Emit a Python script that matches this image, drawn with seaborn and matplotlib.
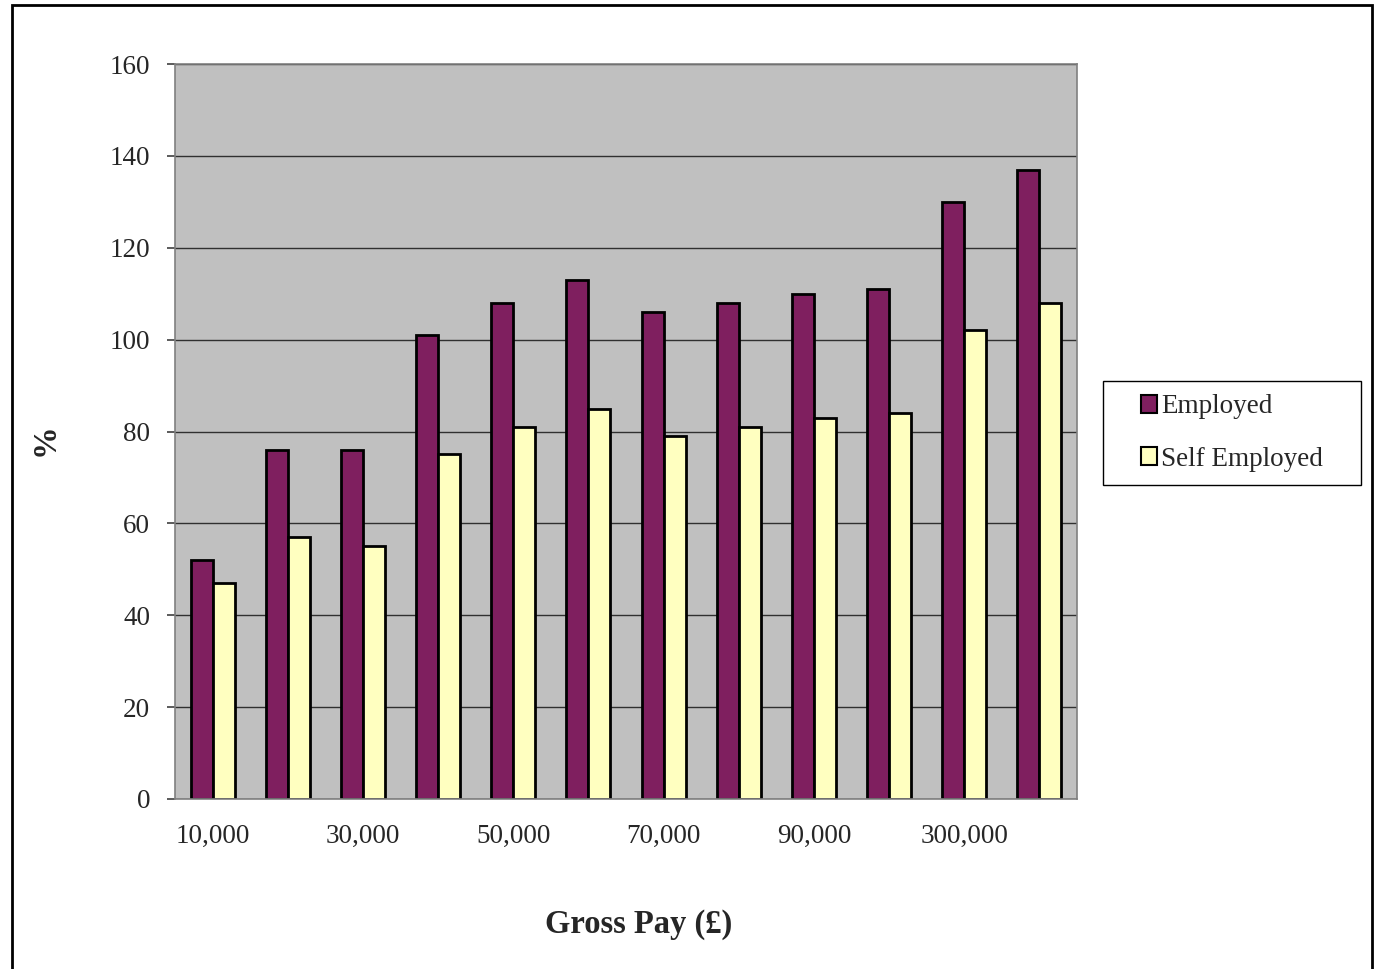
import numpy as np
import pandas as pd
import seaborn as sns
import matplotlib.pyplot as plt
from matplotlib.patches import Rectangle, Patch

# gross pay bands (only every other label is printed on the axis)
pay_bands = ["10,000", "20,000", "30,000", "40,000", "50,000", "60,000",
             "70,000", "80,000", "90,000", "100,000", "300,000", "500,000"]
employed = [52, 76, 76, 101, 108, 113, 106, 108, 110, 111, 130, 137]
self_employed = [47, 57, 55, 75, 81, 85, 79, 81, 83, 84, 102, 108]
series_names = ["Employed", "Self Employed"]
series_colors = ["#7F1F5F", "#FFFFC0"]

# long format for seaborn
df = pd.DataFrame({
    "Gross Pay": pay_bands * 2,
    "Value": employed + self_employed,
    "Group": [series_names[0]] * len(pay_bands) + [series_names[1]] * len(pay_bands),
})

sns.set_style("white")
plt.rcParams["font.family"] = ["Liberation Serif", "DejaVu Serif"]
plt.rcParams["font.size"] = 19.5

fig = plt.figure(figsize=(13.76, 9.69), dpi=100)
ax = fig.add_axes([175 / 1376, 1 - 799 / 969, 902 / 1376, 735 / 969])

sns.barplot(data=df, x="Gross Pay", y="Value", hue="Group", order=pay_bands,
            hue_order=series_names, palette=series_colors, width=0.585,
            edgecolor="black", linewidth=2, saturation=1, ax=ax, legend=False)

ax.set_facecolor("#C0C0C0")
ax.set_xlim(-0.5, len(pay_bands) - 0.5)
ax.set_ylim(0, 160)
ax.set_yticks(np.arange(0, 161, 20))
ax.yaxis.grid(True, color="#303030", linewidth=1)
ax.set_axisbelow(True)
for side in ["left", "right", "top", "bottom"]:
    ax.spines[side].set_visible(True)
    ax.spines[side].set_color("#808080")
    ax.spines[side].set_linewidth(1.2)

# labels on every other category, tick marks on the category borders
ax.set_xticks(range(len(pay_bands)))
ax.set_xticklabels([b if i % 2 == 0 else "" for i, b in enumerate(pay_bands)])
ax.set_xticks(np.arange(-0.5, len(pay_bands)), minor=True)
ax.tick_params(axis="x", which="major", length=0, pad=18)
ax.tick_params(axis="x", which="minor", length=6, width=1.2, color="#404040", direction="out")
ax.tick_params(axis="y", length=6, width=1.2, color="#404040", direction="out", pad=12, left=True)

ax.set_xlabel("Gross Pay (£)", fontsize=23.5, fontweight="bold")
ax.set_ylabel("%", fontsize=23.5, fontweight="bold")
ax.xaxis.set_label_coords((639 - 175) / 902, (799 - 925) / 735)
ax.yaxis.set_label_coords((45 - 175) / 902, (799 - 440) / 735)
ax.xaxis.label.set_va("center")
ax.yaxis.label.set_va("center")

# legend box
fig.patches.append(Rectangle((1103 / 1376, 1 - 485 / 969), 258 / 1376, 104 / 969,
                             transform=fig.transFigure, facecolor="white",
                             edgecolor="black", linewidth=1, zorder=1))
handles = [Patch(facecolor=c, edgecolor="black", linewidth=1.5) for c in series_colors]
fig.legend(handles, series_names, loc="center", bbox_to_anchor=(1232 / 1376, 1 - 433 / 969),
           frameon=False, handlelength=0.6, handleheight=0.6, handletextpad=0.15,
           labelspacing=1.0, fontsize=19.5)

# outer chart border
fig.patches.append(Rectangle((12 / 1376, -0.02), 1360 / 1376, 1.02 - 5 / 969,
                             transform=fig.transFigure, fill=False,
                             edgecolor="black", linewidth=2))

plt.savefig("out.png", dpi=100)
